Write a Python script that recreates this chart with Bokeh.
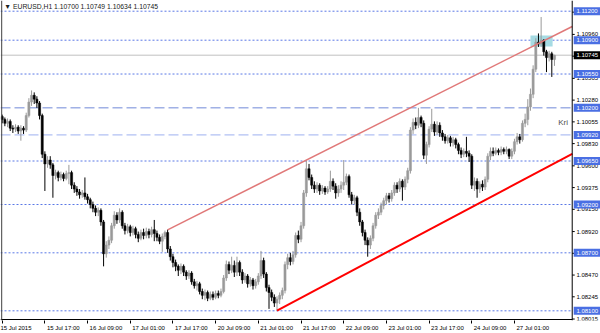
from bokeh.plotting import figure
from bokeh.models import Range1d, FixedTicker, Span, Label, ColumnDataSource
from bokeh.core.properties import value
from bokeh.embed import file_html
from bokeh.resources import INLINE

symbol = "EURUSD,H1"

opens = [1.1011, 1.1008, 1.1004, 1.1006, 1.0999, 1.0998, 1.1000, 1.0996, 1.0999, 1.0997,
         1.1012, 1.1026, 1.1033, 1.1029, 1.1025, 1.1012, 1.0972, 1.0962, 1.0966, 1.0961,
         1.0950, 1.0953, 1.0948, 1.0951, 1.0947, 1.0952, 1.0953, 1.0940, 1.0936, 1.0933,
         1.0930, 1.0932, 1.0928, 1.0925, 1.0920, 1.0916, 1.0912, 1.0914, 1.0902, 1.0869,
         1.0878, 1.0883, 1.0898, 1.0909, 1.0904, 1.0912, 1.0898, 1.0893, 1.0897, 1.0891,
         1.0895, 1.0889, 1.0885, 1.0891, 1.0888, 1.0892, 1.0889, 1.0894, 1.0890, 1.0886,
         1.0882, 1.0887, 1.0891, 1.0874, 1.0866, 1.0860, 1.0856, 1.0852, 1.0856, 1.0850,
         1.0846, 1.0849, 1.0840, 1.0836, 1.0838, 1.0830, 1.0826, 1.0829, 1.0823, 1.0827,
         1.0824, 1.0828, 1.0826, 1.0830, 1.0844, 1.0858, 1.0852, 1.0857, 1.0850, 1.0860,
         1.0850, 1.0842, 1.0846, 1.0838, 1.0842, 1.0836, 1.0840, 1.0846, 1.0862, 1.0848,
         1.0834, 1.0829, 1.0824, 1.0818, 1.0822, 1.0826, 1.0831, 1.0858, 1.0865, 1.0861,
         1.0868, 1.0888, 1.0884, 1.0898, 1.0932, 1.0957, 1.0948, 1.0940, 1.0936, 1.0940,
         1.0934, 1.0937, 1.0933, 1.0936, 1.0944, 1.0939, 1.0932, 1.0936, 1.0940, 1.0943,
         1.0949, 1.0930, 1.0924, 1.0927, 1.0912, 1.0902, 1.0891, 1.0883, 1.0878, 1.0885,
         1.0898, 1.0909, 1.0912, 1.0919, 1.0924, 1.0929, 1.0926, 1.0932, 1.0940, 1.0936,
         1.0944, 1.0938, 1.0946, 1.0955, 1.0997, 1.1005, 1.1002, 1.1010, 1.1004, 1.0971,
         1.0982, 1.0998, 1.1003, 1.0995, 1.1002, 1.0994, 1.0990, 1.0986, 1.0989, 1.0984,
         1.0987, 1.0982, 1.0976, 1.0972, 1.0975, 1.0973, 1.0970, 1.0940, 1.0944, 1.0936,
         1.0941, 1.0938, 1.0946, 1.0970, 1.0975, 1.0973, 1.0976, 1.0974, 1.0977, 1.0975,
         1.0977, 1.0970, 1.0975, 1.0985, 1.0990, 1.0987, 1.1004, 1.1008, 1.1021, 1.1034,
         1.1060, 1.1088, 1.1086, 1.1090, 1.1078, 1.1072, 1.1076, 1.10700]

highs = [1.1013, 1.1010, 1.1009, 1.1008, 1.1002, 1.1003, 1.1002, 1.1002, 1.1001, 1.1015,
         1.1030, 1.1038, 1.1036, 1.1032, 1.1027, 1.1014, 1.0975, 1.0970, 1.0970, 1.0963,
         1.0956, 1.0955, 1.0954, 1.0953, 1.0955, 1.0961, 1.0955, 1.0943, 1.0939, 1.0936,
         1.0935, 1.0948, 1.0931, 1.0927, 1.0923, 1.0919, 1.0917, 1.0916, 1.0904, 1.0882,
         1.0887, 1.0901, 1.0913, 1.0912, 1.0916, 1.0914, 1.0901, 1.0900, 1.0899, 1.0898,
         1.0897, 1.0892, 1.0894, 1.0895, 1.0896, 1.0895, 1.0897, 1.0904, 1.0893, 1.0889,
         1.0890, 1.0893, 1.0894, 1.0877, 1.0869, 1.0863, 1.0858, 1.0859, 1.0858, 1.0852,
         1.0852, 1.0851, 1.0843, 1.0841, 1.0840, 1.0833, 1.0832, 1.0831, 1.0830, 1.0830,
         1.0831, 1.0831, 1.0833, 1.0847, 1.0862, 1.0861, 1.0866, 1.0862, 1.0866, 1.0862,
         1.0853, 1.0849, 1.0848, 1.0845, 1.0844, 1.0843, 1.0849, 1.0872, 1.0865, 1.0850,
         1.0837, 1.0832, 1.0827, 1.0825, 1.0829, 1.0834, 1.0861, 1.0869, 1.0870, 1.0872,
         1.0891, 1.0893, 1.0902, 1.0935, 1.0966, 1.0962, 1.0951, 1.0944, 1.0943, 1.0942,
         1.0940, 1.0939, 1.0939, 1.0955, 1.0947, 1.0942, 1.0940, 1.0944, 1.0966, 1.0952,
         1.0951, 1.0933, 1.0930, 1.0929, 1.0916, 1.0904, 1.0894, 1.0886, 1.0888, 1.0901,
         1.0912, 1.0916, 1.0922, 1.0927, 1.0932, 1.0932, 1.0935, 1.0943, 1.0943, 1.0947,
         1.0946, 1.0949, 1.0958, 1.1000, 1.1009, 1.1010, 1.1020, 1.1012, 1.1007, 1.0985,
         1.1001, 1.1019, 1.1006, 1.1006, 1.1005, 1.0997, 1.0993, 1.0992, 1.0991, 1.0990,
         1.0989, 1.0984, 1.0979, 1.0978, 1.0990, 1.0976, 1.0972, 1.0948, 1.0947, 1.0944,
         1.0945, 1.0949, 1.0973, 1.0979, 1.0979, 1.0979, 1.0978, 1.0980, 1.0979, 1.0980,
         1.0978, 1.0978, 1.0988, 1.0994, 1.0993, 1.1007, 1.1014, 1.1029, 1.1040, 1.1064,
         1.1092, 1.1097, 1.1114, 1.1091, 1.1080, 1.1079, 1.1078, 1.10749]

lows = [1.1004, 1.1001, 1.1000, 1.0996, 1.0994, 1.0995, 1.0993, 1.0986, 1.0993, 1.0995,
        1.1010, 1.1022, 1.1024, 1.1020, 1.1008, 1.0968, 1.0934, 1.0958, 1.0957, 1.0927,
        1.0946, 1.0944, 1.0945, 1.0944, 1.0945, 1.0941, 1.0936, 1.0932, 1.0929, 1.0926,
        1.0927, 1.0925, 1.0921, 1.0916, 1.0912, 1.0908, 1.0908, 1.0898, 1.0856, 1.0865,
        1.0874, 1.0880, 1.0895, 1.0900, 1.0901, 1.0895, 1.0889, 1.0890, 1.0887, 1.0888,
        1.0885, 1.0881, 1.0883, 1.0884, 1.0885, 1.0885, 1.0886, 1.0882, 1.0882, 1.0879,
        1.0871, 1.0884, 1.0870, 1.0862, 1.0855, 1.0851, 1.0846, 1.0848, 1.0846, 1.0842,
        1.0843, 1.0837, 1.0833, 1.0831, 1.0827, 1.0822, 1.0821, 1.0820, 1.0821, 1.0821,
        1.0822, 1.0823, 1.0824, 1.0828, 1.0841, 1.0848, 1.0849, 1.0845, 1.0846, 1.0846,
        1.0838, 1.0839, 1.0834, 1.0835, 1.0832, 1.0833, 1.0837, 1.0843, 1.0844, 1.0830,
        1.0812, 1.0820, 1.0814, 1.0810, 1.0817, 1.0822, 1.0828, 1.0853, 1.0857, 1.0858,
        1.0865, 1.0880, 1.0881, 1.0895, 1.0928, 1.0945, 1.0936, 1.0932, 1.0932, 1.0930,
        1.0931, 1.0930, 1.0931, 1.0933, 1.0935, 1.0926, 1.0928, 1.0932, 1.0935, 1.0940,
        1.0927, 1.0920, 1.0920, 1.0908, 1.0898, 1.0887, 1.0878, 1.0866, 1.0874, 1.0882,
        1.0895, 1.0905, 1.0909, 1.0915, 1.0920, 1.0922, 1.0923, 1.0929, 1.0932, 1.0933,
        1.0924, 1.0935, 1.0942, 1.0952, 1.0993, 1.0998, 1.0999, 1.1000, 1.0967, 1.0962,
        1.0979, 1.0995, 1.0991, 1.0992, 1.0990, 1.0986, 1.0983, 1.0983, 1.0980, 1.0980,
        1.0978, 1.0972, 1.0968, 1.0969, 1.0969, 1.0964, 1.0936, 1.0934, 1.0927, 1.0932,
        1.0934, 1.0935, 1.0943, 1.0966, 1.0970, 1.0971, 1.0971, 1.0971, 1.0972, 1.0972,
        1.0967, 1.0967, 1.0972, 1.0982, 1.0983, 1.0985, 1.1000, 1.1002, 1.1017, 1.1030,
        1.1057, 1.1083, 1.1083, 1.1074, 1.1057, 1.1068, 1.1052, 1.10634]

closes = [1.1008, 1.1004, 1.1006, 1.0999, 1.0998, 1.1000, 1.0996, 1.0999, 1.0997, 1.1012,
          1.1026, 1.1033, 1.1029, 1.1025, 1.1012, 1.0972, 1.0962, 1.0966, 1.0961, 1.0950,
          1.0953, 1.0948, 1.0951, 1.0947, 1.0952, 1.0953, 1.0940, 1.0936, 1.0933, 1.0930,
          1.0932, 1.0928, 1.0925, 1.0920, 1.0916, 1.0912, 1.0914, 1.0902, 1.0869, 1.0878,
          1.0883, 1.0898, 1.0909, 1.0904, 1.0912, 1.0898, 1.0893, 1.0897, 1.0891, 1.0895,
          1.0889, 1.0885, 1.0891, 1.0888, 1.0892, 1.0889, 1.0894, 1.0890, 1.0886, 1.0882,
          1.0887, 1.0891, 1.0874, 1.0866, 1.0860, 1.0856, 1.0852, 1.0856, 1.0850, 1.0846,
          1.0849, 1.0840, 1.0836, 1.0838, 1.0830, 1.0826, 1.0829, 1.0823, 1.0827, 1.0824,
          1.0828, 1.0826, 1.0830, 1.0844, 1.0858, 1.0852, 1.0857, 1.0850, 1.0860, 1.0850,
          1.0842, 1.0846, 1.0838, 1.0842, 1.0836, 1.0840, 1.0846, 1.0862, 1.0848, 1.0834,
          1.0829, 1.0824, 1.0818, 1.0822, 1.0826, 1.0831, 1.0858, 1.0865, 1.0861, 1.0868,
          1.0888, 1.0884, 1.0898, 1.0932, 1.0957, 1.0948, 1.0940, 1.0936, 1.0940, 1.0934,
          1.0937, 1.0933, 1.0936, 1.0944, 1.0939, 1.0932, 1.0936, 1.0940, 1.0943, 1.0949,
          1.0930, 1.0924, 1.0927, 1.0912, 1.0902, 1.0891, 1.0883, 1.0878, 1.0885, 1.0898,
          1.0909, 1.0912, 1.0919, 1.0924, 1.0929, 1.0926, 1.0932, 1.0940, 1.0936, 1.0944,
          1.0938, 1.0946, 1.0955, 1.0997, 1.1005, 1.1002, 1.1010, 1.1004, 1.0971, 1.0982,
          1.0998, 1.1003, 1.0995, 1.1002, 1.0994, 1.0990, 1.0986, 1.0989, 1.0984, 1.0987,
          1.0982, 1.0976, 1.0972, 1.0975, 1.0973, 1.0970, 1.0940, 1.0944, 1.0936, 1.0941,
          1.0938, 1.0946, 1.0970, 1.0975, 1.0973, 1.0976, 1.0974, 1.0977, 1.0975, 1.0977,
          1.0970, 1.0975, 1.0985, 1.0990, 1.0987, 1.1004, 1.1008, 1.1021, 1.1034, 1.1060,
          1.1088, 1.1086, 1.1090, 1.1078, 1.1072, 1.1076, 1.1070, 1.10745]

time_tick_bars = [0, 16, 32, 48, 64, 80, 96, 112, 128, 144, 160, 176, 192]
time_tick_labels = ["15 Jul 2015", "15 Jul 17:00", "16 Jul 09:00", "17 Jul 01:00",
                    "17 Jul 17:00", "20 Jul 09:00", "21 Jul 01:00", "21 Jul 17:00",
                    "22 Jul 09:00", "23 Jul 01:00", "23 Jul 17:00", "24 Jul 09:00",
                    "27 Jul 01:00"]

price_ticks = [1.08015, 1.08245, 1.08470, 1.08695, 1.08920, 1.09150, 1.09375, 1.09600,
               1.09830, 1.10055, 1.10280, 1.10505, 1.10735, 1.10960, 1.11190]

dotted_levels = [1.11200, 1.10900, 1.10550, 1.09650, 1.09200, 1.08700, 1.08100]
dashed_levels = [1.10200, 1.09920]
current_price = 1.10745

upper_channel_bars = [62, 213.65]
upper_channel_prices = [1.08938, 1.11042]
lower_channel_bars = [103, 213.65]
lower_channel_prices = [1.08103, 1.09725]

zone_bars = [198.0, 206.3]
zone_prices = [1.10835, 1.10949]

# ---------------- layout constants (pixels -> bar units) ----------------
PX = 2.668                 # pixels per bar
X0 = -1.7 / PX             # left edge of the canvas in bar units
X1 = X0 + 600 / PX         # right edge of the canvas
AXIS_X = 213.65            # price-scale line (x = 572 px)
PPU = 9665.0               # pixels per price unit
Y_TOP = 1.112 + 10.7 / PPU
Y_BOT = 1.112 - 309.3 / PPU
FONT = "Liberation Sans"
NBSP = "\u00a0"

n = len(closes)
bull = "#9a9a9a"
bear = "#000000"
colors = [bear if c < o else bull for o, c in zip(opens, closes)]
src = ColumnDataSource(dict(
    x=list(range(n)), o=opens, h=highs, l=lows, c=closes,
    top=[max(o, c) for o, c in zip(opens, closes)],
    bottom=[min(o, c) for o, c in zip(opens, closes)],
    color=colors))

p = figure(width=600, height=333, output_backend="svg", toolbar_location=None,
           x_range=Range1d(X0, X1), y_range=Range1d(Y_BOT, Y_TOP),
           y_axis_location=None, min_border_left=0, min_border_right=0,
           min_border_top=0, min_border_bottom=13)
p.grid.visible = False
p.outline_line_color = None
p.background_fill_color = "white"
p.border_fill_color = "white"

# bottom time axis (labels start just right of their tick)
p.xaxis.ticker = FixedTicker(ticks=time_tick_bars)
p.xaxis.major_label_overrides = {
    b: (t if b == time_tick_bars[0] else NBSP * (len(t) * 2 - 2) + t)
    for b, t in zip(time_tick_bars, time_tick_labels)}
p.xaxis.major_label_text_font_size = "6px"
p.xaxis.major_label_text_font = FONT
p.xaxis.major_label_text_color = "black"
p.xaxis.major_tick_out = 3
p.xaxis.major_tick_in = 0
p.xaxis.minor_tick_out = 0
p.xaxis.minor_tick_in = 0
p.xaxis.major_label_standoff = 1
p.xaxis.axis_line_color = None
p.xaxis.major_tick_line_color = "black"

# horizontal levels (stop at the price scale)
k = len(dotted_levels)
p.segment(x0=[X0] * k, x1=[AXIS_X] * k, y0=dotted_levels, y1=dotted_levels,
          line_color="#5a78e6", line_dash="2 2", line_width=1)
p.segment(x0=[X0], x1=[AXIS_X], y0=[dashed_levels[0]], y1=[dashed_levels[0]],
          line_color="#7088d8", line_dash="10 4", line_width=1)
p.segment(x0=[X0], x1=[AXIS_X], y0=[dashed_levels[1]], y1=[dashed_levels[1]],
          line_color="#9db0f0", line_dash="10 4", line_width=1)
p.segment(x0=[X0], x1=[AXIS_X], y0=[current_price], y1=[current_price],
          line_color="#c0c0c0", line_width=1)

# rectangle zone
p.quad(left=[zone_bars[0]], right=[zone_bars[1]], bottom=[zone_prices[0]], top=[zone_prices[1]],
       fill_color="#a6dbe3", line_color=None)

# candles
p.segment(x0="x", y0="l", x1="x", y1="h", color="color", line_width=1, source=src)
p.vbar(x="x", top="top", bottom="bottom", width=0.8, fill_color="color",
       line_color="color", line_width=0.5, source=src)

# channel lines
p.line(upper_channel_bars, upper_channel_prices, line_color="#e07878", line_width=1.5)
p.line(lower_channel_bars, lower_channel_prices, line_color="#ff0000", line_width=2)

# chart frame: left border, bottom line, price-scale line
p.add_layout(Span(location=X0 + 1.2 / PX, dimension="height", line_color="#404040", line_width=1))
bottom_line = Y_BOT + 1.0 / PPU
p.segment(x0=[X0], x1=[AXIS_X], y0=[bottom_line], y1=[bottom_line], line_color="black", line_width=1)
p.segment(x0=[AXIS_X], x1=[AXIS_X], y0=[Y_BOT], y1=[Y_TOP], line_color="black", line_width=1)

# price scale: ticks and labels
m = len(price_ticks)
p.segment(x0=[AXIS_X] * m, x1=[AXIS_X + 2.5 / PX] * m, y0=price_ticks, y1=price_ticks,
          line_color="black", line_width=1)
LABEL_X = AXIS_X + 4.2 / PX
p.text(x=[LABEL_X] * m, y=price_ticks, text=[f"{v:.5f}" for v in price_ticks],
       text_font=value(FONT), text_font_size="6px", text_color="black",
       text_baseline="middle", text_align="left")

# highlighted level labels
levels = dotted_levels + dashed_levels
half = 4.0 / PPU
L = len(levels)
p.quad(left=[AXIS_X + 1.5 / PX] * L, right=[X1] * L,
       bottom=[v - half for v in levels], top=[v + half for v in levels],
       fill_color="#4a6fe3", line_color=None)
p.text(x=[LABEL_X] * L, y=levels, text=[f"{v:.5f}" for v in levels],
       text_font=value(FONT), text_font_size="6px", text_color="white",
       text_baseline="middle", text_align="left")
p.quad(left=[AXIS_X + 1.5 / PX], right=[X1], bottom=[current_price - half],
       top=[current_price + half], fill_color="black", line_color=None)
p.text(x=[LABEL_X], y=[current_price], text=[f"{current_price:.5f}"],
       text_font=value(FONT), text_font_size="6px", text_color="white",
       text_baseline="middle", text_align="left")

# header text
header = "\u25BC " + symbol + "  " + " ".join(f"{v:.5f}" for v in
                                             (opens[-1], highs[-1], lows[-1], closes[-1]))
p.add_layout(Label(x=0.8, y=1.11249, text=header, text_font_size="6.8px", text_font=FONT,
                   text_color="#202020", text_baseline="middle", text_align="left"))

# object name near right edge
p.add_layout(Label(x=208.4, y=1.1005, text="Kri", text_font_size="8px", text_font=FONT,
                   text_color="#505050", text_baseline="middle", text_align="left"))

open("out.html", "w").write(file_html(p, INLINE))
